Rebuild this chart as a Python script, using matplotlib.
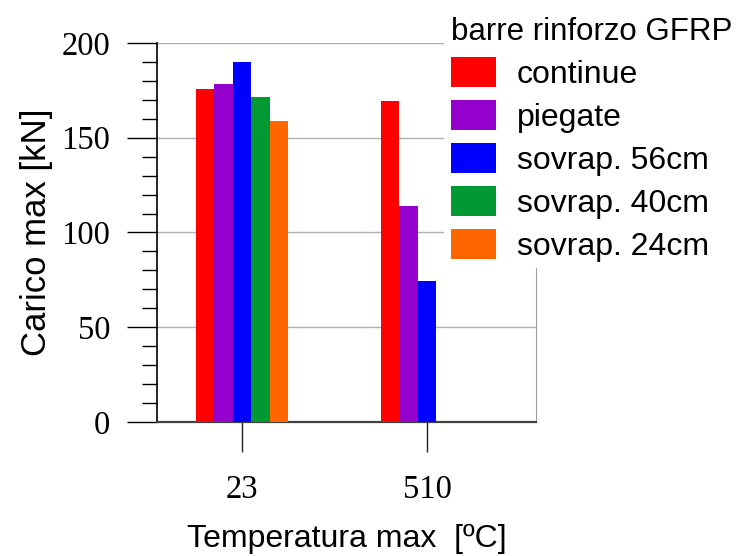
import numpy as np
import matplotlib
matplotlib.use("Agg")
import matplotlib.pyplot as plt
from matplotlib.ticker import MultipleLocator

temperatures = ["23", "510"]
series_names = ["continue", "piegate", "sovrap. 56cm", "sovrap. 40cm", "sovrap. 24cm"]
series_colors = ["#ff0000", "#9400cc", "#0000ff", "#009933", "#ff6600"]
# carico max [kN] per temperatura (23, 510); None = prova assente
carico = {
    "continue":     [175.6, 169.4],
    "piegate":      [178.2, 114.0],
    "sovrap. 56cm": [190.0, 74.6],
    "sovrap. 40cm": [171.5, None],
    "sovrap. 24cm": [158.7, None],
}

SANS = "Liberation Sans"
SERIF = "Liberation Serif"

fig = plt.figure(figsize=(7.42, 5.56), dpi=100)
ax = fig.add_axes([0.2116, 0.241, 0.5108, 0.6817])

x = np.arange(len(temperatures))
width = 0.1
for i, name in enumerate(series_names):
    vals = [v if v is not None else 0 for v in carico[name]]
    offs = (i - 2) * width
    ax.bar(x + offs, vals, width=width, color=series_colors[i], label=name,
           linewidth=0, zorder=3)

ax.set_xlim(-0.459, 1.589)
ax.set_ylim(0, 200)

# axes styling
ax.yaxis.set_major_locator(MultipleLocator(50))
ax.yaxis.set_minor_locator(MultipleLocator(10))
ax.grid(axis="y", which="major", color="#b0b0b0", linewidth=1.0, zorder=0)
ax.spines["top"].set_visible(False)
ax.spines["right"].set_color("#a0a0a0")
ax.spines["bottom"].set_color("#404040")
ax.spines["bottom"].set_linewidth(1.6)
ax.spines["left"].set_color("black")
ax.spines["left"].set_linewidth(1.2)

ax.set_xticks(x)
ax.set_xticklabels(temperatures, fontfamily=SERIF, fontsize=23.5)
ax.tick_params(axis="x", length=21.6, width=1.0, color="#202020", pad=16)
ax.tick_params(axis="y", which="major", length=21.6, width=1.0, pad=12, labelsize=23.5)
ax.tick_params(axis="y", which="minor", length=10.8, width=1.0)
for lbl in ax.get_yticklabels():
    lbl.set_fontfamily(SERIF)

ax.set_ylabel("Carico max [kN]", fontfamily=SANS, fontsize=25, labelpad=6)
ax.set_xlabel("Temperatura max  [\u00baC]", fontfamily=SANS, fontsize=23, labelpad=14)

leg = fig.legend(loc="upper left", bbox_to_anchor=(0.599, 0.981),
                 title="barre rinforzo GFRP", alignment="left",
                 prop={"family": SANS, "size": 23},
                 title_fontproperties={"family": SANS, "size": 22.5},
                 handlelength=1.41, handleheight=1.09, handletextpad=0.66,
                 labelspacing=0.31, borderpad=0.2, borderaxespad=0,
                 frameon=True, framealpha=1, facecolor="white", edgecolor="none",
                 fancybox=False)

fig.savefig("out.png", dpi=100)
